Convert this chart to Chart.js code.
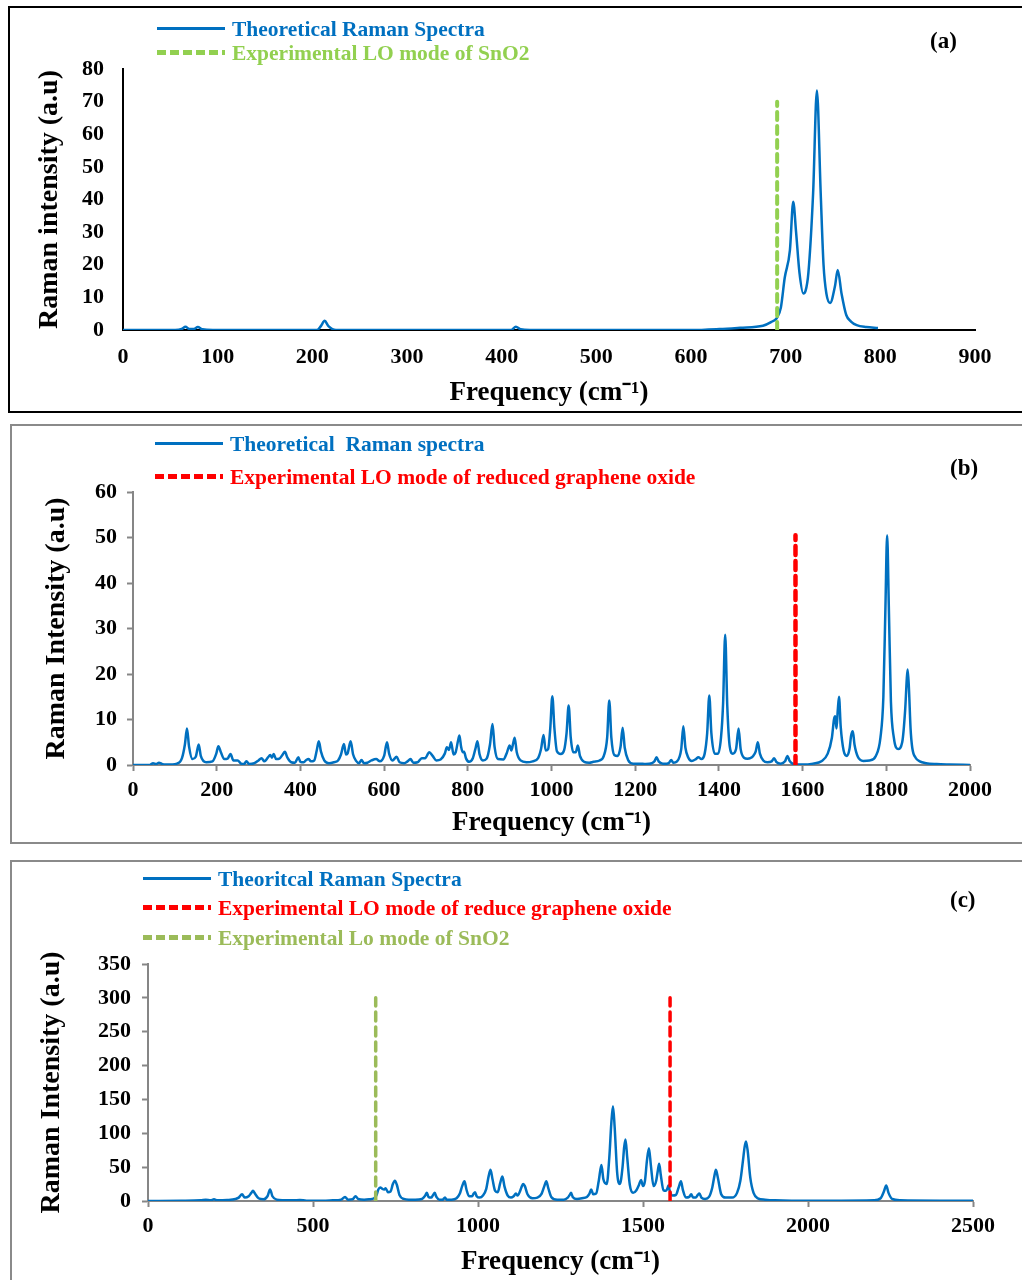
<!DOCTYPE html>
<html>
<head>
<meta charset="utf-8">
<script src="https://cdn.jsdelivr.net/npm/chart.js@4.4.1/dist/chart.umd.min.js"></script>
<style>
  body { margin: 0; background: #fff; }
  #page { position: relative; width: 1022px; height: 1280px; overflow: hidden; }
  .box { position: absolute; }
  .cv { position: absolute; left: 0; width: 1022px; }
  .leg { position: absolute; font: bold 21.5px "Liberation Serif", "Times New Roman", serif; white-space: pre; line-height: 24px; }
  .leg span.sample { position: absolute; left: 0; top: 10px; width: 68px; }
  .leg span.txt { position: absolute; left: 75px; top: 0; }
  .tag { position: absolute; font: bold 23px "Liberation Serif", "Times New Roman", serif; color: #000; }
</style>
</head>
<body>
<div id="page">
  <div class="box" style="left:8px;top:6px;width:1030px;height:403px;border:2px solid #000;"></div>
  <div class="box" style="left:10px;top:424px;width:1030px;height:416px;border:2px solid #8a8a8a;"></div>
  <div class="box" style="left:10px;top:860px;width:1030px;height:440px;border:2px solid #8a8a8a;"></div>

  <canvas id="chartA" class="cv" style="top:0px;height:415px;" width="1022" height="415"></canvas>
  <canvas id="chartB" class="cv" style="top:420px;height:425px;" width="1022" height="425"></canvas>
  <canvas id="chartC" class="cv" style="top:855px;height:425px;" width="1022" height="425"></canvas>

  <div id="legends"></div>
  <div class="tag" style="left:930px;top:28px;">(a)</div>
  <div class="tag" style="left:950px;top:455px;">(b)</div>
  <div class="tag" style="left:950px;top:887px;">(c)</div>
</div>
<script>
// ---- data: [frequency (cm-1), Raman intensity (a.u)] ----
const specA = [[0,0],[55,0],[62,0.3],[66,1.0],[70,0.3],[75,0.3],[79,0.9],[84,0.2],[95,0],[205,0],[209,1.2],[213,2.8],[217,1.2],[225,0],
  [410,0],[415,1.0],[420,0.2],[430,0],[600,0],[630,0.3],[652,0.7],[676,1.3],[685,2.5],[690.5,3.6],[695,7],[699,16],[704.5,24.5],
  [708,39.3],[711,30],[714.6,17.5],[718.6,11.2],[721,12],[724,17.5],[729,42],[733,73.4],[737,42],[740,20],[743,11.2],[747,8.3],
  [752,13.3],[755,18.4],[759,11.2],[764,4.6],[769,2.6],[775,1.5],[785,0.9],[797.5,0.6]];
const loA = [691, 691];
const loAy = [0, 70];

const specB = [[0,0],[40,0],[48,0.4],[55,0.2],[62,0.5],[70,0.2],[80,0.1],[105,0.3],[117,1.5],[124,4.5],[129,8],[134,4],[142,1.3],
  [150,1.8],[157,4.5],[162,2],[175,0.6],[190,0.8],[199,2.5],[204,4.1],[210,2.8],[218,1.3],[226,1.4],[233,2.4],[240,1],[250,1],
  [258,0.3],[265,0.2],[271,0.8],[278,0.2],[290,0.4],[300,1],[307,1.5],[314,0.8],[322,1.6],[328,2.2],[332,1.6],[336,2.4],[342,1.3],
  [350,1.4],[357,2.2],[363,2.9],[369,1.6],[378,0.6],[387,0.5],[395,1.7],[400,0.7],[408,0.6],[414,1.1],[420,1.3],[425,0.8],[433,1.0],
  [439,3.2],[444,5.2],[449,3],[457,1],[468,0.4],[480,0.6],[490,1.0],[497,2.3],[504,4.6],[509,2.3],[513,2.6],[520,5.2],[526,2.3],
  [533,0.9],[540,0.4],[546,1.1],[552,0.4],[560,0.5],[570,1],[581,1.3],[590,0.8],[600,2],[607,5],[612,2.5],[620,1],[630,1.8],
  [637,0.6],[648,0.4],[656,0.8],[663,1.3],[670,0.5],[680,0.6],[690,1.5],[698,1.5],[708,2.8],[716,2.0],[725,1.0],[735,1.2],[745,2.5],
  [750,3.9],[755,3.3],[760,5],[766,2.3],[771,2.8],[777,5.5],[780,6.5],[784,4],[788,2.8],[791,2.9],[796,1.4],[803,0.7],[812,1.5],
  [818,3.5],[823,5.2],[828,2.4],[836,1],[845,1.4],[853,4.5],[859,9],[864,4],[872,1.3],[885,1.2],[893,2.6],[900,4.3],[904,3.2],
  [908,4.6],[912,6],[917,2.8],[926,1],[940,0.6],[955,0.8],[968,1.5],[975,3.5],[981,6.6],[986,3.2],[992,3.5],[997,8],[1002,15.1],
  [1007,8],[1013,3],[1022,2.4],[1030,3.2],[1036,7],[1041,13.1],[1046,6],[1052,2.8],[1058,2.8],[1063,4.3],[1068,2],[1078,0.7],
  [1090,0.5],[1100,0.7],[1115,1],[1125,2],[1133,6],[1138,14.2],[1143,6],[1150,2.2],[1158,2],[1165,4],[1170,8.2],[1175,3.8],
  [1183,1.1],[1195,0.3],[1210,0.3],[1225,0.2],[1240,0.4],[1246,0.8],[1251,1.7],[1256,0.8],[1266,0.3],[1275,0.3],[1281,0.5],
  [1286,1.1],[1291,0.5],[1300,0.8],[1310,3.5],[1315,8.5],[1320,3.8],[1327,1.6],[1335,0.9],[1345,1.3],[1351,1.7],[1358,1.3],
  [1366,2.5],[1372,7],[1377,15.3],[1382,7],[1390,2.5],[1398,2.5],[1405,6],[1410,13.5],[1415,28.6],[1420,13],[1426,4],[1433,2.5],
  [1441,3.5],[1447,8],[1452,3.5],[1460,1.6],[1468,1.4],[1475,1.5],[1482,2],[1488,3],[1493,5],[1498,2.5],[1506,1],[1516,0.6],
  [1526,0.8],[1532,1.5],[1537,0.7],[1548,0.3],[1558,0.8],[1564,2.0],[1569,0.9],[1576,0.3],[1585,0.1],[1600,0.1],[1625,0.3],
  [1645,0.8],[1660,2.5],[1670,6],[1675,10],[1678,10.7],[1681,8],[1684,12],[1687,15],[1691,8.5],[1698,3.2],[1706,2],[1712,3.5],
  [1716,6.5],[1720,7.4],[1724,4.5],[1732,1.8],[1745,0.9],[1760,1],[1775,2],[1786,6],[1793,15],[1798,35],[1802,50.5],[1806,35],
  [1811,14],[1818,6],[1828,3.5],[1838,5],[1845,12],[1849,19],[1851,21],[1854,17],[1858,8],[1862,3.8],[1870,1.6],[1880,0.8],
  [1895,0.4],[1920,0.2],[1950,0.1],[2000,0]];
const loB = [1583, 1583];
const loBy = [0, 50.5];

const specC = [[0,0],[100,0.5],[160,1],[175,2],[190,1],[200,2.5],[210,1],[240,1.5],[265,3],[275,5],[285,10],[293,5],[305,7],
  [313,12],[318,15],[324,11],[335,4],[350,2.5],[362,7],[370,17],[377,7],[390,2],[410,1.2],[440,1],[460,1.5],[480,0.5],[530,0.5],
  [560,1],[585,2],[597,6],[606,2],[620,2.5],[629,7],[637,3],[655,2],[670,2.5],[685,4],[692,8],[698,17],[704,20],[710,18],[716,17],
  [720,19],[727,13],[735,14],[742,25],[748,30],[754,24],[762,9],[775,3],[790,2],[810,2],[830,3],[840,8],[845,12],[850,6],[858,5],
  [864,9],[869,12],[874,6],[883,2],[893,2],[900,5],[905,2],[920,2],[935,4],[945,11],[952,22],[959,29],[965,17],[973,7],[982,7],
  [987,11],[991,13],[996,7],[1005,5],[1015,8],[1025,18],[1032,36],[1038,46],[1044,32],[1052,15],[1060,13],[1067,26],[1074,36],
  [1080,22],[1090,8],[1100,5],[1108,7],[1115,11],[1120,8],[1127,14],[1133,22],[1137,25],[1142,22],[1150,10],[1165,4],[1180,5],
  [1193,11],[1201,22],[1207,29],[1213,19],[1222,6],[1240,2],[1260,2],[1272,5],[1278,9],[1282,12],[1287,6],[1300,3],[1315,4],
  [1330,6],[1337,10],[1343,17],[1349,10],[1358,11],[1366,30],[1374,53],[1380,32],[1390,25],[1398,65],[1404,115],[1409,140],
  [1414,110],[1422,40],[1430,25],[1438,50],[1443,80],[1447,91],[1452,65],[1460,24],[1470,12],[1480,16],[1488,24],[1494,31],
  [1500,22],[1506,30],[1512,60],[1518,78],[1524,52],[1532,22],[1540,30],[1545,45],[1549,55],[1554,38],[1562,16],[1570,15],
  [1575,20],[1577,23],[1581,15],[1590,8],[1600,9],[1608,20],[1615,29],[1621,16],[1630,5],[1640,6],[1646,10],[1652,5],[1660,5],
  [1666,9],[1671,11],[1677,5],[1688,3],[1700,6],[1710,20],[1716,36],[1721,46],[1727,34],[1737,10],[1750,5],[1770,5],[1785,12],
  [1795,30],[1803,60],[1808,80],[1812,88],[1817,75],[1825,35],[1835,12],[1848,4],[1870,2],[1900,1],[1950,0.5],[2100,0.5],
  [2200,1],[2220,4],[2230,14],[2237,23],[2244,12],[2255,3],[2280,1],[2400,0.5],[2500,0.5]];
const loCsno2 = [690, 690];
const loCrgo = [1582, 1582];
const loCy = [0, 300];

const BLUE = '#0070C0';
const FONT = '"Liberation Serif", "Times New Roman", serif';

function pts(arr) { return arr.map(p => ({x: p[0], y: p[1]})); }
function vline(xs, ys) { return xs.map((x, i) => ({x: x, y: ys[i]})); }

function makeChart(id, cfg) {
  const tickGrid = cfg.ticks
    ? {display: true, drawOnChartArea: false, drawTicks: true, tickLength: 6, tickWidth: 2, color: cfg.axisColor}
    : {display: false, drawTicks: false};
  return new Chart(document.getElementById(id), {
    type: 'line',
    data: {datasets: cfg.datasets},
    options: {
      responsive: false,
      animation: false,
      events: [],
      layout: {padding: {left: 0, top: cfg.top, right: cfg.right, bottom: 0}},
      plugins: {legend: {display: false}, tooltip: {enabled: false}},
      elements: {point: {radius: 0}},
      scales: {
        x: {
          type: 'linear', min: 0, max: cfg.xmax,
          afterFit: s => { s.height = cfg.xh; },
          border: {display: true, color: cfg.axisColor, width: 2},
          grid: tickGrid,
          ticks: {stepSize: cfg.xstep, color: '#000', padding: cfg.xpad, maxRotation: 0,
                  callback: v => String(v),
                  font: {family: FONT, size: 22, weight: 'bold'}},
          title: {display: true, text: 'Frequency (cm\u207B\u00B9)', color: '#000',
                  font: {family: FONT, size: 27, weight: 'bold'}, padding: {top: 0, bottom: cfg.xtpad}}
        },
        y: {
          min: 0, max: cfg.ymax,
          afterFit: s => { s.width = cfg.yw; },
          border: {display: true, color: cfg.axisColor, width: 2},
          grid: tickGrid,
          ticks: {stepSize: cfg.ystep, color: '#000', padding: cfg.ypad,
                  callback: v => String(v),
                  font: {family: FONT, size: 22, weight: 'bold'}},
          title: {display: true, text: cfg.ytitle, color: '#000',
                  font: {family: FONT, size: 28, weight: 'bold'}, padding: {top: cfg.ytpad, bottom: 0}}
        }
      }
    }
  });
}

function dashed(data, color, width, dash) {
  return {data: data, borderColor: color, borderWidth: width, borderDash: dash, borderCapStyle: 'round', pointRadius: 0, fill: false, tension: 0};
}
function spectrum(data) {
  return {data: data, borderColor: BLUE, borderWidth: 2.5, pointRadius: 0, fill: false, cubicInterpolationMode: 'monotone'};
}

makeChart('chartA', {
  datasets: [dashed(vline(loA, loAy), '#92D050', 4, [8, 6]), spectrum(pts(specA))],
  xmax: 900, xstep: 100, ymax: 80, ystep: 10,
  top: 69, right: 47, xh: 85, yw: 123, xpad: 14, ypad: 19, xtpad: 6, ytpad: 33,
  axisColor: '#000', ticks: false, ytitle: 'Raman intensity (a.u)'
});
makeChart('chartB', {
  datasets: [dashed(vline(loB, loBy), '#FF0000', 4.5, [9, 6]), spectrum(pts(specB))],
  xmax: 2000, xstep: 200, ymax: 60, ystep: 10,
  top: 72, right: 52, xh: 80, yw: 133, xpad: 6, ypad: 10, xtpad: 6, ytpad: 40,
  axisColor: '#868686', ticks: true, ytitle: 'Raman Intensity (a.u)'
});
makeChart('chartC', {
  datasets: [dashed(vline(loCrgo, loCy), '#FF0000', 3.5, [9, 6]), dashed(vline(loCsno2, loCy), '#9BBB59', 3.5, [9, 6]), spectrum(pts(specC))],
  xmax: 2500, xstep: 500, ymax: 350, ystep: 50,
  top: 109, right: 49, xh: 79, yw: 148, xpad: 6, ypad: 11, xtpad: 2, ytpad: 35,
  axisColor: '#868686', ticks: true, ytitle: 'Raman Intensity (a.u)'
});

// ---- legends (HTML text) ----
const legendItems = [
  {x: 157, y: 17, color: BLUE, dash: false, text: 'Theoretical Raman Spectra'},
  {x: 157, y: 41, color: '#92D050', dash: true, text: 'Experimental LO mode of SnO2'},
  {x: 155, y: 432, color: BLUE, dash: false, text: 'Theoretical  Raman spectra'},
  {x: 155, y: 465, color: '#FF0000', dash: true, text: 'Experimental LO mode of reduced graphene oxide'},
  {x: 143, y: 867, color: BLUE, dash: false, text: 'Theoritcal Raman Spectra'},
  {x: 143, y: 896, color: '#FF0000', dash: true, text: 'Experimental LO mode of reduce graphene oxide'},
  {x: 143, y: 926, color: '#9BBB59', dash: true, text: 'Experimental Lo mode of SnO2'}
];
const host = document.getElementById('legends');
legendItems.forEach(it => {
  const d = document.createElement('div');
  d.className = 'leg';
  d.style.left = it.x + 'px';
  d.style.top = it.y + 'px';
  const s = document.createElement('span');
  s.className = 'sample';
  if (it.dash) {
    s.style.height = '5px';
    s.style.top = '9px';
    s.style.background = 'repeating-linear-gradient(90deg,' + it.color + ' 0 9px, transparent 9px 13px)';
  } else {
    s.style.height = '2.5px';
    s.style.background = it.color;
  }
  const t = document.createElement('span');
  t.className = 'txt';
  t.style.color = it.color;
  t.textContent = it.text;
  d.appendChild(s);
  d.appendChild(t);
  host.appendChild(d);
});
</script>
</body>
</html>
